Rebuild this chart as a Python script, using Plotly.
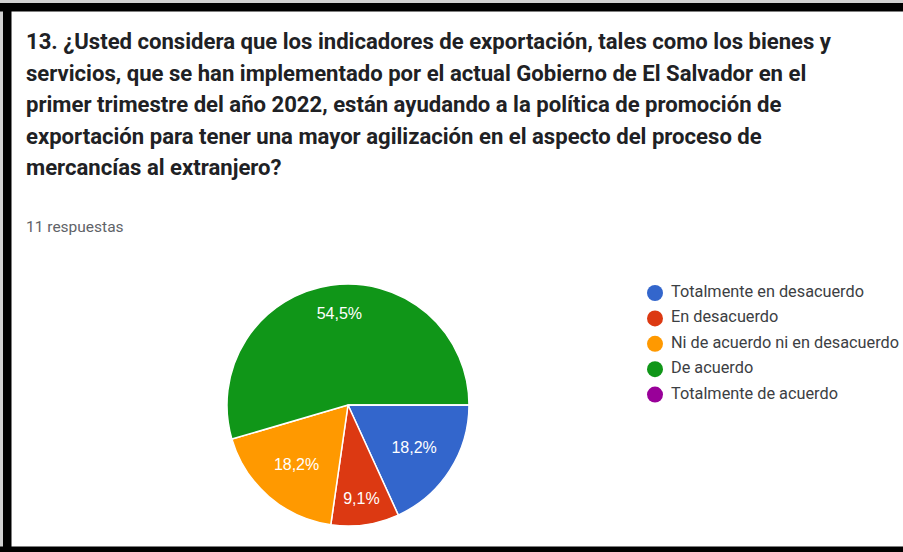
import plotly.graph_objects as go

# ---- data ----
categories = ["Totalmente en desacuerdo", "En desacuerdo",
              "Ni de acuerdo ni en desacuerdo", "De acuerdo",
              "Totalmente de acuerdo"]
responses = [2, 1, 2, 6, 0]
colors = ["#3366cc", "#dc3912", "#ff9900", "#109618", "#990099"]
title_lines = [
    "13. ¿Usted considera que los indicadores de exportación, tales como los bienes y",
    "servicios, que se han implementado por el actual Gobierno de El Salvador en el",
    "primer trimestre del año 2022, están ayudando a la política de promoción de",
    "exportación para tener una mayor agilización en el aspecto del proceso de",
    "mercancías al extranjero?",
]
subtitle = "11 respuestas"

W, H = 903, 552
cx, cy, r = 348, 405, 121

# label templates: the big slice's label sits nearer the rim, as in the source
pad = "<br><span style='color:rgba(0,0,0,0)'>.</span>"
templates = ["%{percent:.1%}", "%{percent:.1%}", "%{percent:.1%}",
             "%{percent:.1%}" + pad * 3, "%{percent:.1%}"]

fig = go.Figure()

fig.add_trace(go.Pie(
    labels=categories, values=responses,
    marker=dict(colors=colors, line=dict(color="white", width=1.5)),
    sort=False, direction="clockwise", rotation=90,
    texttemplate=templates, textposition="inside",
    insidetextfont=dict(color="white", size=16, family="Arial"),
    insidetextorientation="horizontal",
    showlegend=False, hoverinfo="label+percent",
    domain=dict(x=[(cx - r) / W, (cx + r) / W],
                y=[(H - cy - r) / H, (H - cy + r) / H]),
))

# manual legend on an invisible pixel-scaled axis
leg_x = 655
leg_y0, leg_dy = 293, 25.4
leg_y = [leg_y0 + i * leg_dy for i in range(len(categories))]
fig.add_trace(go.Scatter(
    x=[leg_x] * len(categories), y=leg_y,
    mode="markers",
    marker=dict(color=colors, size=16, line=dict(width=0)),
    showlegend=False, hoverinfo="skip",
))
fig.add_trace(go.Scatter(
    x=[671] * len(categories), y=leg_y,
    mode="text", text=categories,
    textposition="middle right",
    textfont=dict(family="Roboto, Arial", size=16.3, color="#3c4043"),
    showlegend=False, hoverinfo="skip",
))

shapes = [
    dict(type="rect", xref="x", yref="y", x0=0, x1=W, y0=0, y1=3,
         fillcolor="#d0d0d0", line_width=0, layer="below"),
    dict(type="rect", xref="x", yref="y", x0=0, x1=3, y0=0, y1=H,
         fillcolor="#d0d0d0", line_width=0, layer="below"),
    dict(type="rect", xref="x", yref="y", x0=0, x1=W, y0=3, y1=11.5,
         fillcolor="black", line_width=0),
    dict(type="rect", xref="x", yref="y", x0=3, x1=11.5, y0=3, y1=H,
         fillcolor="black", line_width=0),
    dict(type="rect", xref="x", yref="y", x0=0, x1=W, y0=546.5, y1=H,
         fillcolor="black", line_width=0),
]

annotations = []
line_y = [41, 73, 104, 136, 167]
for txt, yy in zip(title_lines, line_y):
    annotations.append(dict(
        x=24, y=yy, xref="x", yref="y", text="<b>" + txt + "</b>",
        showarrow=False, xanchor="left", yanchor="middle",
        font=dict(family="Roboto, Arial", size=22.1, color="#202124"),
    ))
annotations.append(dict(
    x=24, y=227, xref="x", yref="y", text=subtitle,
    showarrow=False, xanchor="left", yanchor="middle",
    font=dict(family="Roboto, Arial", size=15.5, color="#5f6368"),
))

fig.update_layout(
    width=W, height=H,
    margin=dict(l=0, r=0, t=0, b=0),
    paper_bgcolor="white", plot_bgcolor="rgba(0,0,0,0)",
    separators=",.",
    xaxis=dict(range=[0, W], visible=False, fixedrange=True),
    yaxis=dict(range=[H, 0], visible=False, fixedrange=True),
    shapes=shapes, annotations=annotations,
    showlegend=False,
)

fig.write_html("out.html", config={"displayModeBar": False},
               post_script="document.body.style.margin='0px';document.body.style.overflow='hidden';")
